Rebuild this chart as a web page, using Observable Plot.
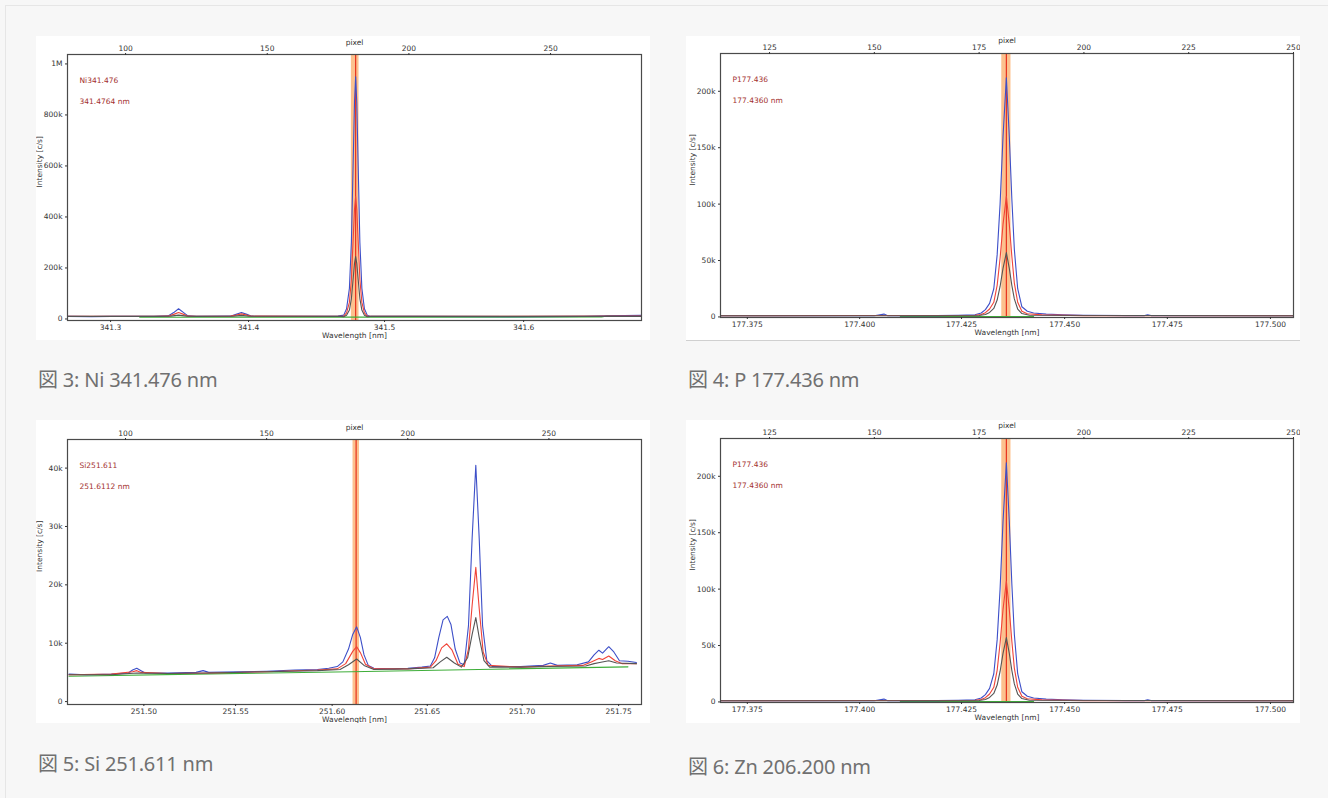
<!DOCTYPE html>
<html>
<head>
<meta charset="utf-8">
<script src="https://cdn.jsdelivr.net/npm/d3@7"></script>
<script src="https://cdn.jsdelivr.net/npm/@observablehq/plot@0.6"></script>
<style>
  html, body { margin: 0; padding: 0; background: #f7f7f7; width: 1328px; height: 798px; overflow: hidden; }
  .frame { position: absolute; left: 5px; top: 5px; width: 1400px; height: 900px; border-top: 1px solid #e6e6e6; border-left: 1px solid #e6e6e6; }
  .panel { position: absolute; background: #fff; width: 614px; overflow: hidden; }
  .panel svg { display: block; }
  .cap { position: absolute; font-family: "Noto Sans", "Noto Sans CJK JP", sans-serif; font-size: 20px; font-weight: 400; color: #707070; line-height: 22px; white-space: nowrap; letter-spacing: -0.2px; }
</style>
</head>
<body>
<div class="frame"></div>
<div id="p1" class="panel" style="left:36px; top:36px; height:304px;"></div>
<div id="p2" class="panel" style="left:686px; top:36px; height:304px; border-bottom:1px solid #d0d0d0;"></div>
<div id="p3" class="panel" style="left:36px; top:420px; height:303px;"></div>
<div id="p4" class="panel" style="left:686px; top:420px; height:303px;"></div>
<div class="cap" style="left:38px; top:369px;">図 3: Ni 341.476 nm</div>
<div class="cap" style="left:688px; top:369px;">図 4: P 177.436 nm</div>
<div class="cap" style="left:38px; top:753px;">図 5: Si 251.611 nm</div>
<div class="cap" style="left:688px; top:756px;">図 6: Zn 206.200 nm</div>
<script>
// ---------- Ni 341.476 (x = detector pixel, y = intensity c/s) ----------
const niPixelTicks = [100, 150, 200, 250];
const niWlTickPixels = [94.7, 143.4, 191.4, 240.5];
const niWlTickLabels = ["341.3", "341.4", "341.5", "341.6"];
const niYTicks = [0, 200000, 400000, 600000, 800000, 1000000];
const niYTickLabels = ["0", "200k", "400k", "600k", "800k", "1M"];
const niBand = [179.7, 182.4];
const niCenter = 181.2;
const niBlue = [[79.5,10000],[88,9000],[95,10000],[110,10000],[115,12000],[117,25000],[118.7,40000],[120.5,25000],[122,12000],[125,10000],[137,11000],[139,18000],[140.9,25000],[142.8,18000],[144.5,11000],[160,10000],[170,10000],[175,11000],[177,15000],[178,40000],[179,120000],[179.7,300000],[180.3,600000],[180.8,850000],[181.2,950000],[181.6,850000],[182.1,600000],[182.7,300000],[183.4,120000],[184.3,40000],[185.3,15000],[186.5,10000],[200,10000],[240,9000],[262,10000],[270,12000],[282.1,14000]];
const niRed = [[79.5,10000],[110,10000],[115,11000],[117,18000],[118.7,25000],[120.5,18000],[122,11000],[125,10000],[137,11000],[139,15000],[140.9,20000],[142.8,15000],[144.5,11000],[170,10000],[176,10000],[177,11000],[178,24000],[179,65000],[179.7,155000],[180.3,305000],[180.8,430000],[181.2,480000],[181.6,430000],[182.1,305000],[182.7,155000],[183.4,65000],[184.3,24000],[185.3,11000],[186.5,10000],[282.1,11000]];
const niGray = [[79.5,10000],[112,10000],[116,11000],[118.7,15000],[121.5,11000],[125,10000],[138,10500],[140.9,14000],[143.5,10500],[176,10000],[177,9000],[178,15000],[179,35000],[179.7,80000],[180.3,155000],[180.8,218000],[181.2,245000],[181.6,218000],[182.1,155000],[182.7,80000],[183.4,35000],[184.3,15000],[185.3,9000],[186.5,10000],[282.1,10000]];
const niGreen = [[105,7000],[268,7500],[270,12000],[282.1,12000]];

// ---------- P 177.436 ----------
const pPixelTicks = [125, 150, 175, 200, 225, 250];
const pWlTickPixels = [119.7, 146.5, 170.8, 195.4, 219.9, 244.5];
const pWlTickLabels = ["177.375", "177.400", "177.425", "177.450", "177.475", "177.500"];
const pYTicks = [0, 50000, 100000, 150000, 200000];
const pYTickLabels = ["0", "50k", "100k", "150k", "200k"];
const pBand = [180.4, 182.6];
const pCenter = 181.5;
const pBlue = [[113.3,1000],[150,1000],[152.3,2500],[153.2,1000],[165,1200],[170,1500],[174,2000],[175.5,3500],[176.5,6500],[177.5,12000],[178.5,25000],[179.3,55000],[180.0,100000],[180.7,160000],[181.5,212000],[182.2,160000],[182.8,105000],[183.4,60000],[184.2,25000],[185.2,9000],[186.5,5000],[188,3500],[191,2500],[195,2000],[200,1500],[210,1200],[214.5,1200],[215.2,2000],[216,1200],[250,1000]];
const pRed = [[113.3,1000],[174,1500],[175.5,2200],[176.5,3800],[177.5,7000],[178.5,13000],[179.3,28000],[180.0,52000],[180.7,82000],[181.5,107000],[182.2,82000],[182.8,54000],[183.4,30000],[184.2,13000],[185.2,5000],[186.5,2800],[190,1800],[200,1200],[250,1000]];
const pGray = [[113.3,1000],[175,1200],[176.5,2200],[177.5,4000],[178.5,7500],[179.3,15000],[180.0,27000],[180.7,43000],[181.5,57000],[182.2,43000],[182.8,28000],[183.4,16000],[184.2,7000],[185.2,3000],[187,1500],[250,1000]];
const pGreen = [[156.2,300],[188,300]];

// ---------- Si 251.611 ----------
const siPixelTicks = [100, 150, 200, 250];
const siWlTickPixels = [106.5, 139, 173.2, 206.9, 240.5, 274.7];
const siWlTickLabels = ["251.50", "251.55", "251.60", "251.65", "251.70", "251.75"];
const siYTicks = [0, 10000, 20000, 30000, 40000];
const siYTickLabels = ["0", "10k", "20k", "30k", "40k"];
const siBand = [180.6, 182.9];
const siCenter = 181.7;
const siBlue = [[80,4700],[86,4600],[95,4700],[101,4900],[102.5,5400],[104,5700],[105.5,5300],[107,4900],[115,4900],[125,5000],[127.5,5300],[129.5,5000],[140,5100],[150,5200],[160,5400],[168,5500],[172,5700],[175,6000],[177,6800],[179,9000],[180.5,11500],[181.9,12800],[183.2,11000],[184.5,8000],[186,6200],[188,5700],[195,5600],[200,5700],[205,5900],[208,6100],[209.5,7500],[211,11000],[212.5,14000],[214,14600],[215.3,13200],[216.8,9000],[218.5,6600],[220,6300],[221.5,13000],[222.8,28000],[224.1,40500],[225.3,28000],[226.5,13000],[228,7000],[230,6000],[240,6000],[248,6200],[250.5,6600],[253,6200],[260,6300],[264,6800],[266,8000],[267.7,8800],[269,8300],[271.2,9400],[273,8500],[275,7000],[278,6900],[281,6700]];
const siRed = [[80,4600],[95,4700],[102.5,5100],[104,5300],[105.5,5000],[115,4800],[130,4900],[150,5100],[168,5400],[175,5600],[178,6500],[180.5,8600],[181.9,9400],[183.3,8300],[185,6400],[188,5600],[200,5600],[208,5900],[210,7000],[212,9200],[213.8,9900],[215.7,8800],[217.8,6400],[220,6000],[221.5,9000],[222.8,16500],[224.1,23000],[225.3,16000],[226.7,8500],[228.5,6200],[240,5900],[250,6100],[262,6200],[265,6800],[267.7,7400],[269,7200],[271.2,7800],[273.5,7000],[276,6500],[281,6500]];
const siGray = [[80,4600],[95,4600],[104,4900],[115,4800],[130,4900],[150,5100],[168,5300],[176,5500],[179,6300],[181.9,7300],[184.5,6200],[188,5500],[200,5600],[209,5800],[211.5,6800],[213.8,7600],[216.5,6600],[219,5900],[221.2,7500],[222.8,11500],[224.1,14400],[225.3,11000],[227,7000],[229,5900],[240,5900],[250,6000],[263,6100],[266,6500],[268,6700],[271.2,7000],[274,6600],[281,6500]];
const siGreen = [[80,4350],[130,4750],[180,5100],[230,5550],[278,5950]];

const COL = { blue: "#3d4fc8", red: "#f04438", gray: "#555555", green: "#3fae3a", band: "#fcc18e", rule: "#e8321f", label: "#a3302e" };

function panel(o) {
  const yMap = new Map(o.yTicks.map((d, i) => [d, o.yTickLabels[i]]));
  const wlMap = new Map(o.wlTickPixels.map((d, i) => [d, o.wlTickLabels[i]]));
  const ln = (data, stroke) => Plot.line(data, { x: d => d[0], y: d => d[1], stroke, strokeWidth: 1.1, curve: "linear" });
  return Plot.plot({
    width: 614, height: o.height,
    marginTop: o.mt, marginBottom: o.mb, marginLeft: o.ml, marginRight: o.mr,
    x: { domain: o.xDomain },
    y: { domain: o.yDomain },
    style: { fontFamily: "DejaVu Sans, Verdana, sans-serif", fontSize: "7.5px", color: "#333", background: "#fff" },
    marks: [
      Plot.rect([o.band], { x1: d => d[0], x2: d => d[1], fill: COL.band }),
      Plot.ruleX([o.center], { stroke: COL.rule, strokeWidth: 1.2 }),
      ln(o.green, COL.green),
      ln(o.blue, COL.blue),
      ln(o.red, COL.red),
      ln(o.gray, COL.gray),
      Plot.frame({ stroke: "#4a4a4a", strokeWidth: 1.2 }),
      Plot.axisX({ anchor: "top", ticks: o.pixelTicks, tickFormat: d => String(d), tickSize: 2, tickPadding: 2, label: null }),
      Plot.axisX({ anchor: "bottom", ticks: o.wlTickPixels, tickFormat: d => wlMap.get(d), tickSize: 2, tickPadding: 2, label: null }),
      Plot.axisY({ ticks: o.yTicks, tickFormat: d => yMap.get(d), tickSize: 2, tickPadding: 3, label: null }),
      Plot.text(["pixel"], { frameAnchor: "top", dy: -15 + o.pixDy, fill: "#333" }),
      Plot.text(["Wavelength [nm]"], { frameAnchor: "bottom", dy: 17, fill: "#333" }),
      Plot.text(["Intensity [c/s]"], { frameAnchor: "left", dx: -28, rotate: -90, fill: "#333" }),
      Plot.text([o.label1], { frameAnchor: "top-left", dx: 12, dy: 23, textAnchor: "start", fill: COL.label, fontSize: 7.5 }),
      Plot.text([o.label2], { frameAnchor: "top-left", dx: 12, dy: 44, textAnchor: "start", fill: COL.label, fontSize: 7.5 })
    ]
  });
}

const pCfg = (h, mt, mb) => ({
  height: h, mt, mb, ml: 34, mr: 7, pixDy: -1,
  xDomain: [113.3, 250], yDomain: [-500, 233500],
  pixelTicks: pPixelTicks, wlTickPixels: pWlTickPixels, wlTickLabels: pWlTickLabels,
  yTicks: pYTicks, yTickLabels: pYTickLabels, band: pBand, center: pCenter,
  blue: pBlue, red: pRed, gray: pGray, green: pGreen,
  label1: "P177.436", label2: "177.4360 nm"
});

document.getElementById("p1").append(panel({
  height: 304, mt: 18, mb: 20, ml: 31, mr: 9, pixDy: 0,
  xDomain: [79.5, 282.1], yDomain: [-6000, 1037000],
  pixelTicks: niPixelTicks, wlTickPixels: niWlTickPixels, wlTickLabels: niWlTickLabels,
  yTicks: niYTicks, yTickLabels: niYTickLabels, band: niBand, center: niCenter,
  blue: niBlue, red: niRed, gray: niGray, green: niGreen,
  label1: "Ni341.476", label2: "341.4764 nm"
}));
document.getElementById("p2").append(panel(pCfg(304, 17, 23)));
document.getElementById("p3").append(panel({
  height: 303, mt: 19, mb: 19, ml: 31, mr: 9, pixDy: 0,
  xDomain: [79.45, 282.8], yDomain: [-500, 44900],
  pixelTicks: siPixelTicks, wlTickPixels: siWlTickPixels, wlTickLabels: siWlTickLabels,
  yTicks: siYTicks, yTickLabels: siYTickLabels, band: siBand, center: siCenter,
  blue: siBlue, red: siRed, gray: siGray, green: siGreen,
  label1: "Si251.611", label2: "251.6112 nm"
}));
document.getElementById("p4").append(panel(pCfg(303, 18, 21)));
</script>
</body>
</html>
